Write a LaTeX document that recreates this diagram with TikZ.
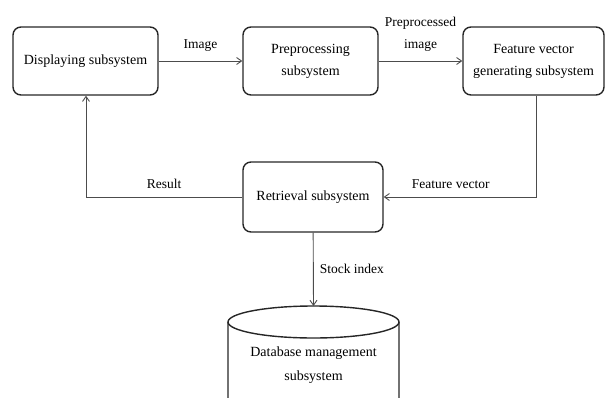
\documentclass[tikz,border=0pt]{standalone}
\usepackage{fontspec}
\setmainfont{Liberation Serif}
\usetikzlibrary{arrows.meta}
\begin{document}
\begin{tikzpicture}[x=1pt,y=-1pt,
  box/.style={draw=black!85, line width=1.4pt, rounded corners=8pt, align=center,
    inner sep=2pt, font=\fontsize{14}{22}\selectfont},
  conn/.style={draw=black!70, line width=0.9pt, -{Straight Barb[length=5pt,width=7pt]}},
  lbl/.style={font=\fontsize{13.5}{22}\selectfont, align=center, inner sep=0pt}]
\useasboundingbox (0,0) rectangle (606,397);
\clip (0,0) rectangle (606,397);
\node[box, minimum width=145pt, minimum height=68pt] (disp) at (85.5,61) {Displaying subsystem};
\node[box, minimum width=135pt, minimum height=68pt] (pre) at (310.5,61) {Preprocessing\\subsystem};
\node[box, minimum width=141pt, minimum height=68pt] (feat) at (533.5,61) {Feature vector\\generating subsystem};
\node[box, minimum width=140pt, minimum height=70pt] (ret) at (313,197) {Retrieval subsystem};
% database cylinder
\node[font=\fontsize{14}{24}\selectfont, align=center, inner sep=0pt] (db) at (313.5,365) {Database management\\subsystem};
\coordinate (dbtop) at (313.5,306);
\draw[black!85, line width=1.4pt] (228,322) -- (228,398) arc[start angle=180,end angle=0,x radius=85.5,y radius=16] -- (399,322);
\draw[black!85, line width=1.4pt] (313.5,322) ellipse[x radius=85.5, y radius=16];
% connectors
\draw[conn] (disp) -- node[lbl, above=9pt] {Image} (pre);
\draw[conn] (pre) -- node[lbl, above=9pt] {Preprocessed\\image} (feat);
\draw[conn] (feat.south -| 536,0) |- node[lbl, pos=0.78, above=8pt] {Feature vector} (ret.east);
\draw[conn] (ret.west) -| node[lbl, pos=0.25, above=8pt] {Result} (disp.south -| 86,0);
\draw[conn] (ret) -- node[lbl, right=6pt, pos=0.5] {Stock index} (dbtop);
\end{tikzpicture}
\end{document}
